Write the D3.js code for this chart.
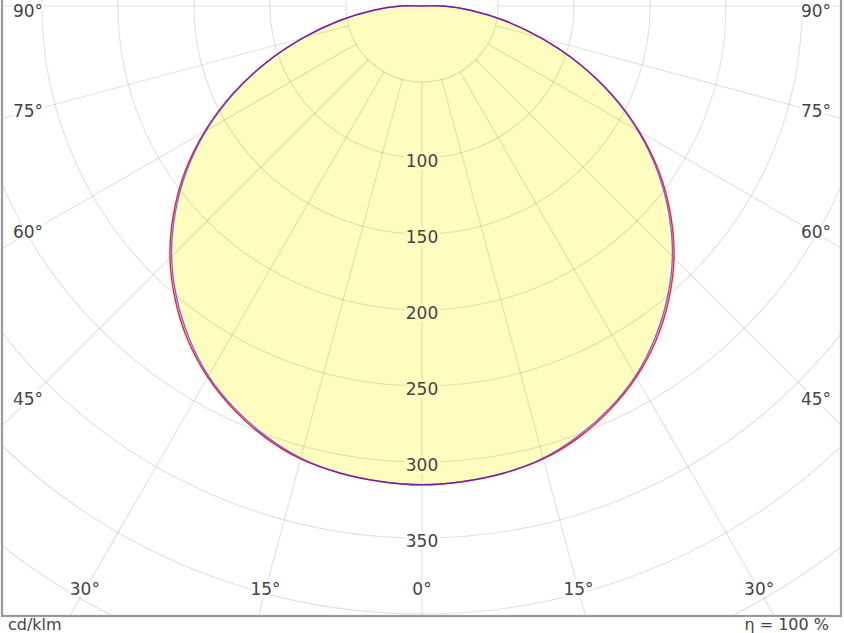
<!DOCTYPE html>
<html>
<head>
<meta charset="utf-8">
<script src="https://cdn.jsdelivr.net/npm/d3@7/dist/d3.min.js"></script>
<style>
  html, body { margin: 0; padding: 0; background: #fff; }
  svg { display: block; }
  text { font-family: "DejaVu Sans", Verdana, sans-serif; }
</style>
</head>
<body>
<svg id="chart" width="844" height="633"></svg>
<script>
// ---- data (cd/klm) ----
const gammaAngles = [0, 5, 10, 15, 20, 25, 30, 35, 40, 45, 50, 55, 60, 65, 70, 75, 80, 85, 90];
const planeC0C180 = [315, 314, 312, 308.5, 302, 293, 282, 268.5, 252.5, 234.5, 213.5, 190.5, 165, 138, 109.5, 81, 55, 32, 14];
const planeC90C270 = [315, 314, 312, 308, 301, 292, 281, 267, 251, 233, 212, 189, 164, 137, 109, 81, 55, 32, 14];
const ringValues = [50, 100, 150, 200, 250, 300, 350, 400, 450, 500];
const ringLabels = [100, 150, 200, 250, 300, 350];
const angleTicks = [0, 15, 30, 45, 60, 75, 90];
const unitLabel = "cd/klm";
const efficiencyLabel = "η = 100 %";

// ---- layout ----
const W = 844, H = 633;
const cx = 422, cy = 6;
const frame = { x0: 2, x1: 841, y0: -20, y1: 616 };
const inset = 26;
const r = d3.scaleLinear().domain([0, 50]).range([0, 76]);

const svg = d3.select("#chart");
svg.append("rect").attr("width", W).attr("height", H).attr("fill", "#fff");

const defs = svg.append("defs");
defs.append("clipPath").attr("id", "frameClip")
  .append("rect")
  .attr("x", frame.x0).attr("y", frame.y0)
  .attr("width", frame.x1 - frame.x0).attr("height", frame.y1 - frame.y0);

const g = svg.append("g").attr("clip-path", "url(#frameClip)");
const origin = g.append("g").attr("transform", `translate(${cx},${cy})`);

// build full polar outline: -90..90 then through center
function outline(vals) {
  const pts = [];
  for (let i = gammaAngles.length - 1; i >= 0; i--) pts.push([-gammaAngles[i], vals[i]]);
  for (let i = 1; i < gammaAngles.length; i++) pts.push([gammaAngles[i], vals[i]]);
  pts.push([180, 0]);
  return pts;
}
const rad = d => d * Math.PI / 180;
const radial = d3.lineRadial()
  .angle(d => Math.PI - rad(d[0]))
  .radius(d => r(d[1]))
  .curve(d3.curveCatmullRomClosed.alpha(0.5));

const yellow = "#fffcbf";
origin.append("path").attr("d", radial(outline(planeC0C180))).attr("fill", yellow);
origin.append("path").attr("d", radial(outline(planeC90C270))).attr("fill", yellow);

// grid
const gridColor = "rgba(0,0,0,0.12)";
origin.selectAll("circle.ring").data(ringValues).join("circle")
  .attr("class", "ring")
  .attr("r", d => r(d))
  .attr("fill", "none").attr("stroke", gridColor).attr("stroke-width", 1.1);

const spokes = [];
angleTicks.forEach(a => { spokes.push(a); if (a !== 0) spokes.push(-a); });
origin.selectAll("line.spoke").data(spokes).join("line")
  .attr("class", "spoke")
  .attr("x1", d => r(50) * Math.sin(rad(d)))
  .attr("y1", d => r(50) * Math.cos(rad(d)))
  .attr("x2", d => 1200 * Math.sin(rad(d)))
  .attr("y2", d => 1200 * Math.cos(rad(d)))
  .attr("stroke", gridColor).attr("stroke-width", 1.1);

// curves
origin.append("path").attr("d", radial(outline(planeC0C180)))
  .attr("fill", "none").attr("stroke", "#ff2020").attr("stroke-width", 1.4);
origin.append("path").attr("d", radial(outline(planeC90C270)))
  .attr("fill", "none").attr("stroke", "#2020ff").attr("stroke-opacity", 0.65).attr("stroke-width", 1.4);

// ring labels
const labelG = svg.append("g");
const maxI = d3.max(planeC90C270);
labelG.selectAll("text.ringlab").data(ringLabels).join("text")
  .attr("class", "ringlab")
  .attr("x", cx).attr("y", d => cy + r(d) + 4)
  .attr("text-anchor", "middle").attr("dominant-baseline", "middle")
  .attr("font-size", 17).attr("fill", "#444")
  .attr("stroke", d => d < maxI ? yellow : "#fff").attr("stroke-width", 5)
  .attr("paint-order", "stroke")
  .text(d => d);

// angle labels: where spoke meets inset rectangle
const L = frame.x0 + inset, R = frame.x1 - inset, B = frame.y1 - inset;
function anglePos(a) {
  const s = Math.sin(rad(Math.abs(a))), c = Math.cos(rad(Math.abs(a)));
  const sign = a < 0 ? -1 : 1;
  const tSide = (cx - L) / (s || 1e-9);
  const tBottom = (B - cy) / (c || 1e-9);
  const t = Math.min(tSide, tBottom);
  return [cx + sign * t * s, Math.max(cy + t * c, 12)];
}
labelG.selectAll("text.anglab").data(spokes).join("text")
  .attr("class", "anglab")
  .attr("x", d => anglePos(d)[0]).attr("y", d => anglePos(d)[1])
  .attr("text-anchor", "middle").attr("dominant-baseline", "middle")
  .attr("font-size", 17).attr("fill", "#444")
  .attr("stroke", "#fff").attr("stroke-width", 5).attr("paint-order", "stroke")
  .text(d => Math.abs(d) + "°");

// frame
svg.append("rect")
  .attr("x", frame.x0).attr("y", frame.y0)
  .attr("width", frame.x1 - frame.x0).attr("height", frame.y1 - frame.y0)
  .attr("fill", "none").attr("stroke", "#9a9a9a").attr("stroke-width", 2.2);

// footer texts
svg.append("text").attr("x", 8).attr("y", 629.5)
  .attr("font-size", 16).attr("fill", "#444").text(unitLabel);
svg.append("text").attr("x", 829).attr("y", 629.5).attr("text-anchor", "end")
  .attr("font-size", 16).attr("fill", "#444").text(efficiencyLabel);
</script>
</body>
</html>
